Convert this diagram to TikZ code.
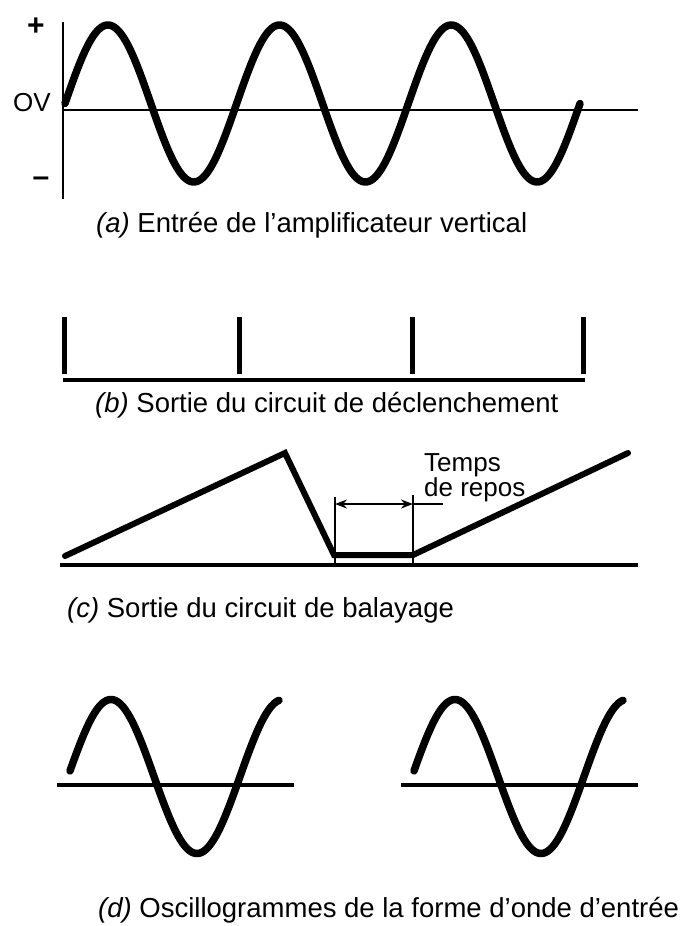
\documentclass[tikz,border=0pt]{standalone}
\usepackage{fontspec}
\setmainfont{Liberation Sans}
\usetikzlibrary{arrows.meta}
\begin{document}
\begin{tikzpicture}[x=1pt,y=-1pt,
  wave/.style={line width=7.5pt, line cap=round, line join=round},
  ramp/.style={line width=6pt, line cap=round, line join=miter},
  axisline/.style={line width=2.4pt},
  tickmark/.style={line width=5pt},
  baseline/.style={line width=3.4pt},
  dimline/.style={line width=1.7pt},
  captext/.style={anchor=base west, inner sep=0pt, font=\fontsize{27.5}{32}\selectfont},
  lbl/.style={inner sep=0pt, font=\fontsize{26}{30}\selectfont}
]
\useasboundingbox (0,0) rectangle (683,926);

% ---------- (a) ----------
\coordinate (aTop) at (63,22);
\coordinate (aBot) at (63,199);
\coordinate (aZ0) at (63,110);
\coordinate (aZ1) at (638,110);
\draw[axisline] (aTop) -- (aBot);
\draw[axisline] (aZ0) -- (aZ1);
\draw[wave] plot[domain=65:580,samples=240,smooth] (\x,{103.5-78.5*sin((\x-65)*2.09705)});
\node[lbl,font=\fontsize{30}{30}\selectfont\bfseries] (plus) at (36,27) {+};
\node[lbl] (ov) at (32,103) {OV};
\node[lbl,font=\fontsize{30}{30}\selectfont\bfseries] (minus) at (41,182) {–};
\node[captext] (capA) at (96,232) {\textit{(a)} Entrée de l’amplificateur vertical};

% ---------- (b) ----------
\foreach \i/\x in {1/64,2/239,3/412,4/583}{
  \coordinate (t\i a) at (\x,317);
  \coordinate (t\i b) at (\x,374);
  \draw[tickmark] (t\i a) -- (t\i b);
}
\coordinate (bB0) at (63,380);
\coordinate (bB1) at (585,380);
\draw[baseline] (bB0) -- (bB1);
\node[captext] (capB) at (95,412) {\textit{(b)} Sortie du circuit de déclenchement};

% ---------- (c) ----------
\coordinate (r0) at (65,556);
\coordinate (r1) at (285,453);
\coordinate (r2) at (334,555);
\coordinate (r3) at (413,555);
\coordinate (r4) at (628,453);
\draw[ramp] (r0) -- (r1) -- (r2) -- (r3) -- (r4);
\coordinate (cB0) at (60,565);
\coordinate (cB1) at (638,565);
\draw[baseline] (cB0) -- (cB1);
\coordinate (dL0) at (335,497);
\coordinate (dL1) at (335,565);
\coordinate (dR0) at (413,495);
\coordinate (dR1) at (413,565);
\draw[dimline] (dL0) -- (dL1);
\draw[dimline] (dR0) -- (dR1);
\coordinate (aL) at (335,504);
\coordinate (aR) at (413,504);
\coordinate (aX) at (443,504);
\draw[dimline,{Stealth[length=12pt,width=9pt]}-{Stealth[length=12pt,width=9pt]}] (aL) -- (aR);
\draw[dimline] (aR) -- (aX);
\node[lbl,anchor=base west] (temps) at (424,471) {Temps};
\node[lbl,anchor=base west] (repos) at (424,496) {de repos};
\node[captext] (capC) at (67,617) {\textit{(c)} Sortie du circuit de balayage};

% ---------- (d) ----------
\foreach \k/\dx in {1/0,2/344}{
  \coordinate (dz\k a) at (57+\dx,785);
  \coordinate (dz\k b) at (294+\dx,785);
  \draw[baseline] (dz\k a) -- (dz\k b);
  \draw[wave] plot[domain=70:279,samples=160,smooth] ({\x+\dx},{776.5-77*sin((\x-68)*2.09302)});
}
\node[captext] (capD) at (98,917) {\textit{(d)} Oscillogrammes de la forme d’onde d’entrée};
\end{tikzpicture}
\end{document}
